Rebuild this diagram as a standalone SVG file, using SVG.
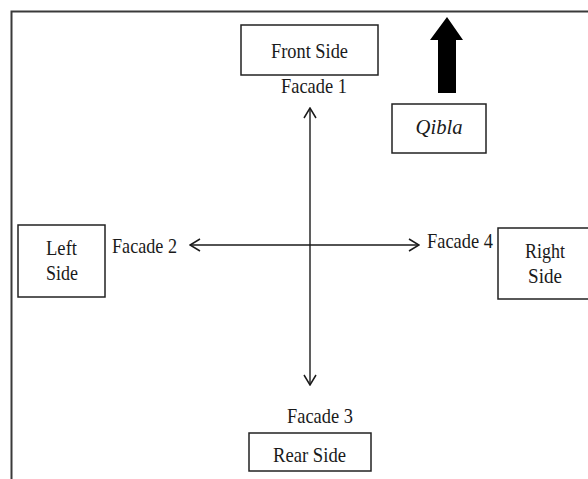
<svg xmlns="http://www.w3.org/2000/svg" width="588" height="479" viewBox="0 0 588 479">
<style>
.box{fill:#fff;stroke:#222;stroke-width:1.5}
.t{font-family:"Liberation Serif","Times New Roman",serif;font-size:21px;fill:#1a1a1a;text-anchor:middle}
.conn{stroke:#1a1a1a;stroke-width:1.4;fill:none}
</style>
<defs>
<marker id="ah" viewBox="0 0 12 14" refX="11" refY="7" markerWidth="12" markerHeight="14" markerUnits="userSpaceOnUse" orient="auto-start-reverse">
<path d="M1,1 L11,7 L1,13" fill="none" stroke="#1a1a1a" stroke-width="1.5"/>
</marker>
</defs>
<rect width="588" height="479" fill="#fff"/>
<g id="frame">
<path d="M11.5,479 L11.5,11.5 L588,11.5" fill="none" stroke="#3a3a3a" stroke-width="2"/>
</g>
<g id="connectors">
<line class="conn" x1="310" y1="108" x2="310" y2="385" marker-start="url(#ah)" marker-end="url(#ah)"/>
<line class="conn" x1="190" y1="245" x2="419" y2="245" marker-start="url(#ah)" marker-end="url(#ah)"/>
</g>
<g id="front">
<rect class="box" x="241" y="25" width="137" height="50"/>
<text class="t" x="309.5" y="58" textLength="77" lengthAdjust="spacingAndGlyphs">Front Side</text>
</g>
<g id="facade1"><text class="t" x="314" y="93" textLength="66" lengthAdjust="spacingAndGlyphs">Facade 1</text></g>
<g id="qibla-arrow">
<polygon points="447,17 463,40 456,40 456,93 438,93 438,40 430,40" fill="#000"/>
</g>
<g id="qibla">
<rect class="box" x="392" y="104" width="94" height="49"/>
<text class="t" x="439" y="134" style="font-style:italic" textLength="47" lengthAdjust="spacingAndGlyphs">Qibla</text>
</g>
<g id="left">
<rect class="box" x="18" y="225" width="87" height="72"/>
<text class="t" x="61.5" y="255" textLength="31" lengthAdjust="spacingAndGlyphs">Left</text>
<text class="t" x="62" y="280" textLength="32" lengthAdjust="spacingAndGlyphs">Side</text>
</g>
<g id="facade2"><text class="t" x="144.5" y="253" textLength="65" lengthAdjust="spacingAndGlyphs">Facade 2</text></g>
<g id="facade4"><text class="t" x="460" y="248" textLength="66" lengthAdjust="spacingAndGlyphs">Facade 4</text></g>
<g id="right">
<rect class="box" x="498" y="228" width="95" height="71"/>
<text class="t" x="545" y="258" textLength="40" lengthAdjust="spacingAndGlyphs">Right</text>
<text class="t" x="545" y="283" textLength="34" lengthAdjust="spacingAndGlyphs">Side</text>
</g>
<g id="facade3"><text class="t" x="320" y="423" textLength="66" lengthAdjust="spacingAndGlyphs">Facade 3</text></g>
<g id="rear">
<rect class="box" x="249" y="433" width="122" height="38"/>
<text class="t" x="309.5" y="462" textLength="73" lengthAdjust="spacingAndGlyphs">Rear Side</text>
</g>
</svg>
